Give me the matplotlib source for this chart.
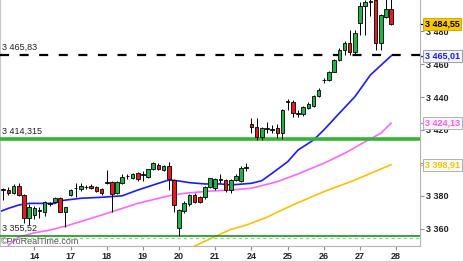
import numpy as np
import matplotlib.pyplot as plt
import matplotlib.transforms as mtransforms

plt.rcParams['font.family'] = ['Liberation Sans', 'DejaVu Sans']
plt.rcParams['lines.scale_dashes'] = False

# hourly-ish bars, 7 per day, first 6 bars belong to the 13th
opens = [3384.0, 3383.5, 3381.5, 3386.0, 3380.5, 3366.5,
         3368.3, 3371.0, 3370.3, 3375.2, 3376.4, 3378.5, 3370.3,
         3380.5, 3384.5, 3384.0, 3385.3, 3386.0, 3385.2, 3384.0,
         3388.0, 3388.6, 3381.5, 3387.6, 3391.8, 3391.0, 3393.7,
         3392.8, 3391.6, 3396.0, 3399.0, 3395.6, 3398.0, 3389.6,
         3360.2, 3371.0, 3375.0, 3380.5, 3379.5, 3379.5, 3385.5,
         3384.5, 3389.8, 3389.6, 3383.5, 3389.5, 3389.0, 3397.0,
         3423.6, 3422.0, 3416.0, 3420.8, 3420.2, 3421.0, 3418.0,
         3437.0, 3437.2, 3430.0, 3430.0, 3433.5, 3434.6, 3440.7,
         3450.2, 3450.2, 3455.4, 3462.5, 3468.6, 3473.0, 3467.6,
         3484.9, 3495.4, 3498.0, 3498.9, 3472.7, 3488.9, 3493.4]
highs = [3384.7, 3385.5, 3387.0, 3388.0, 3381.0, 3375.0,
         3374.0, 3373.4, 3377.0, 3376.5, 3379.5, 3379.2, 3373.5,
         3384.0, 3388.0, 3387.5, 3386.5, 3387.0, 3386.0, 3385.0,
         3395.5, 3389.0, 3389.0, 3393.0, 3393.5, 3394.0, 3394.5,
         3395.0, 3396.5, 3400.5, 3400.0, 3399.0, 3400.5, 3390.0,
         3372.0, 3377.0, 3381.0, 3381.5, 3380.0, 3386.0, 3391.0,
         3391.0, 3393.5, 3390.2, 3390.5, 3393.0, 3398.0, 3400.0,
         3427.3, 3427.3, 3422.0, 3425.0, 3423.0, 3423.6, 3433.0,
         3439.0, 3438.0, 3432.0, 3434.5, 3437.0, 3441.5, 3445.5,
         3451.5, 3456.0, 3463.0, 3470.0, 3474.0, 3481.0, 3481.0,
         3497.5, 3499.0, 3500.0, 3499.5, 3490.5, 3500.0, 3500.0]
lows = [3377.5, 3380.5, 3381.0, 3380.0, 3363.3, 3362.0,
        3366.0, 3366.5, 3368.0, 3374.0, 3376.0, 3370.0, 3361.2,
        3380.0, 3379.5, 3383.0, 3384.0, 3384.0, 3382.5, 3380.5,
        3387.0, 3370.3, 3381.0, 3387.0, 3390.5, 3390.0, 3389.0,
        3389.0, 3391.0, 3395.5, 3395.5, 3395.0, 3383.5, 3370.3,
        3355.5, 3369.5, 3374.0, 3375.5, 3375.8, 3378.0, 3385.0,
        3383.5, 3387.8, 3382.5, 3382.0, 3389.0, 3388.5, 3395.0,
        3418.0, 3414.0, 3414.0, 3418.0, 3418.0, 3415.0, 3414.5,
        3432.0, 3428.0, 3428.0, 3428.5, 3433.0, 3434.0, 3440.0,
        3448.5, 3449.5, 3455.0, 3462.0, 3465.8, 3465.5, 3465.8,
        3478.0, 3478.0, 3489.0, 3468.6, 3468.6, 3488.0, 3484.0]
closes = [3383.5, 3381.5, 3386.0, 3380.5, 3366.3, 3373.4,
          3372.6, 3371.5, 3376.4, 3375.6, 3378.6, 3370.3, 3373.2,
          3383.5, 3384.8, 3386.0, 3385.6, 3384.6, 3383.1, 3381.5,
          3388.5, 3381.0, 3388.6, 3391.6, 3392.2, 3393.0, 3390.0,
          3393.2, 3396.0, 3399.7, 3396.0, 3398.0, 3390.0, 3374.4,
          3371.4, 3375.4, 3380.5, 3376.4, 3376.4, 3385.5, 3390.6,
          3390.0, 3390.3, 3383.5, 3389.6, 3391.8, 3397.0, 3397.4,
          3421.8, 3416.0, 3421.0, 3421.2, 3420.6, 3418.0, 3432.2,
          3437.4, 3430.2, 3430.4, 3433.8, 3436.0, 3440.7, 3444.3,
          3450.6, 3455.4, 3462.5, 3468.6, 3473.0, 3467.6, 3478.8,
          3495.4, 3497.8, 3498.5, 3472.7, 3490.0, 3493.4, 3484.55]

days = ['14', '17', '18', '19', '20', '21', '24', '25', '26', '27', '28']
first_day_bar = 6
bars_per_day = 7

# moving averages (bar index, value)
ma_blue_x = [-1, 1, 3, 5, 10, 11, 15, 19, 23, 26, 30, 32, 34, 36, 39, 42, 44,
             48, 50, 52, 55, 57, 60, 62, 65, 68, 71, 75]
ma_blue = [3370.0, 3372.4, 3374.4, 3375.4, 3375.4, 3377.0, 3378.5, 3379.1,
           3380.0, 3383.5, 3387.6, 3389.6, 3389.0, 3388.0, 3387.2, 3387.2,
           3386.6, 3387.6, 3389.2, 3393.7, 3400.7, 3407.8, 3413.9, 3420.0,
           3430.2, 3440.2, 3453.4, 3465.01]
ma_pink_x = [1, 3, 6, 9, 12, 17, 21, 26, 32, 35, 40, 44, 48, 53, 57, 62, 66,
             70, 73, 75]
ma_pink = [3350.0, 3355.0, 3357.5, 3359.2, 3361.5, 3366.3, 3370.3, 3375.4,
           3380.0, 3381.5, 3382.9, 3383.5, 3384.6, 3388.6, 3393.3, 3399.8,
           3405.8, 3412.9, 3418.0, 3424.13]
ma_orange_x = [37, 41, 44, 47, 51, 56, 62, 68, 75]
ma_orange = [3349.5, 3355.3, 3359.6, 3362.2, 3367.0, 3374.5, 3382.5, 3389.6,
             3398.91]

level_top = 3465.83
level_mid = 3414.315
level_low = 3355.52
level_low_dash = 3354.2

tags = [(3484.55, '3 484,55', 'black', '#fcc800', '#d8a800'),
        (3465.01, '3 465,01', '#1a1aff', '#f4f6ff', '#a0a0a0'),
        (3424.13, '3 424,13', '#ff55ff', '#faf7fa', '#b0b0b0'),
        (3398.91, '3 398,91', '#ffc000', '#fbfbf6', '#b0b0b0')]

fig = plt.figure(figsize=(4.64, 2.61), dpi=100)
ax = fig.add_axes([0, 15 / 261, 420 / 464, 246 / 261])
ax.set_xlim(-0.64, 80.6)
ax.set_ylim(3349.5, 3499.0)

o = np.array(opens)
c = np.array(closes)
h = np.array(highs)
l = np.array(lows)
x = np.arange(len(o))

# moving averages
ax.plot(ma_orange_x, ma_orange, color='#ffc000', lw=1.2, zorder=2)
ax.plot(ma_pink_x, ma_pink, color='#ff66ff', lw=1.2, zorder=2)
ax.plot(ma_blue_x, ma_blue, color='#1a1aff', lw=1.2, zorder=2)

# levels
ax.axhline(level_top, color='black', lw=1.6, linestyle=(0, (6.5, 7.6)), zorder=3)
ax.axhline(level_mid, color='#33b533', lw=2.6, zorder=3)
ax.axhline(level_low, color='#1f8f1f', lw=1.2, zorder=3)
ax.axhline(level_low_dash, color='#77dd77', lw=0.9, linestyle=(0, (2.2, 2.2)), zorder=3)

# candles
up = c >= o
cols = np.where(up, '#22b24a', '#e41c1c')
ax.vlines(x, l, h, color='black', lw=0.7, zorder=4)
bottom = np.minimum(o, c)
height = np.maximum(np.abs(c - o), 0.15)
ax.bar(x, height, bottom=bottom, width=0.7, color=cols, edgecolor='black',
       linewidth=0.6, zorder=5)

# axes look
ax.spines['top'].set_visible(False)
ax.spines['left'].set_color('#c8c8c8')
ax.spines['right'].set_color('#b4b4b4')
ax.spines['bottom'].set_color('#b4b4b4')

ticks_y = np.arange(3360, 3500, 20)
ax.yaxis.tick_right()
ax.set_yticks(ticks_y)
# 3 400 sits right under the 3 398,91 tag, so it is not shown
ax.set_yticklabels(['' if v == 3400 else '3 %03d' % (v - 3000) for v in ticks_y])
ax.tick_params(axis='y', length=3, width=0.8, color='#909090', pad=1.5,
               labelsize=6.5, labelcolor='#222222')
for t in ax.get_yticklabels():
    t.set_fontweight('bold')

day_pos = [first_day_bar + bars_per_day * k for k in range(len(days))]
ax.set_xticks(day_pos)
ax.set_xticklabels(days)
ax.tick_params(axis='x', length=3, width=0.8, color='#909090', pad=1.5,
               labelsize=6.5, labelcolor='#222222')
for t in ax.get_xticklabels():
    t.set_fontweight('bold')

trans = mtransforms.blended_transform_factory(ax.transAxes, ax.transData)
ax.text(1.0 + 5 / 420, 3500.5, '3 500', transform=trans, va='center',
        ha='left', fontsize=6.5, fontweight='bold', color='#222222')

# price tags on the right
for price, label, tc, fc, ec in tags:
    ax.plot([1.0, 1.0 + 4 / 420], [price, price], transform=trans,
            color=tc, lw=0.9, clip_on=False)
    ax.text(1.0 + 5 / 420, price, label, transform=trans, va='center',
            ha='left', fontsize=6.5, fontweight='bold', color=tc, zorder=10,
            bbox=dict(boxstyle='square,pad=0.18', fc=fc, ec=ec, lw=0.7))

# level labels on the left
for lev, txt in [(level_top, '3 465,83'), (level_mid, '3 414,315'),
                 (level_low, '3 355,52')]:
    ax.annotate(txt, xy=(0, lev), xycoords=trans, xytext=(1.5, 2.2),
                textcoords='offset points', va='bottom', ha='left',
                fontsize=6.5, color='#222222', zorder=6)

ax.text(0.002, 0.018, '\u00a9ProRealTime.com', transform=ax.transAxes,
        va='center', ha='left', fontsize=6.5, color='#555555', zorder=6)

fig.savefig('out.png', dpi=100)
